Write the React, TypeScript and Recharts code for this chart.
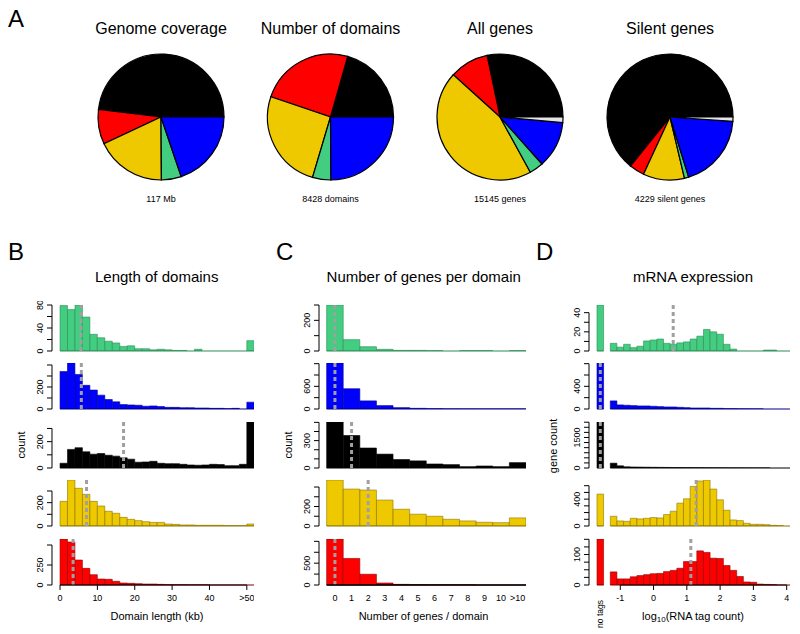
import React from "react";
import { PieChart, Pie, Cell, BarChart, Bar, XAxis, YAxis, ReferenceLine } from "recharts";

const FONT = "'Liberation Sans', Arial, Helvetica, sans-serif";

// ---------- A: pies (share of each chromatin type, percent) ----------
const sliceNames = ["black", "red", "yellow", "green", "blue", "none"];
const sliceColors = ["#000000", "#FF0000", "#EEC900", "#43CD80", "#0000FF", "#E5E5E5"];
const genomeCoverage = [48.1, 8.9, 18.1, 5.1, 19.8, 0];
const numberOfDomains = [20.6, 24.2, 25.6, 4.7, 24.9, 0];
const allGenes = [28.3, 10.0, 44.7, 3.6, 12.0, 1.4];
const silentGenes = [64.2, 3.9, 10.6, 1.1, 19.1, 1.1];
const pieTitles = ["Genome coverage", "Number of domains", "All genes", "Silent genes"];
const pieCaptions = ["117 Mb", "8428 domains", "15145 genes", "4229 silent genes"];

// ---------- B: length of domains (2 kb bins, last = >50) ----------
const lengthBins = [1, 3, 5, 7, 9, 11, 13, 15, 17, 19, 21, 23, 25, 27, 29, 31, 33, 35, 37, 39, 41, 43, 45, 47, 49, 51];
const lengthTicks = [0, 10, 20, 30, 40, 50];
const lengthTickLabels = ["0", "10", "20", "30", "40", ">50"];
const lengthGreen = [79, 72, 80, 59, 29, 23, 17, 14, 8, 9, 4, 4, 2, 3, 2, 1, 1, 0, 3, 0, 0, 0, 0, 0, 0, 18];
const lengthBlue = [341, 418, 314, 215, 172, 126, 86, 65, 40, 37, 34, 25, 28, 22, 15, 15, 12, 12, 9, 9, 6, 6, 3, 6, 0, 62];
const lengthBlack = [36, 141, 154, 123, 105, 110, 97, 90, 77, 67, 44, 46, 51, 36, 33, 33, 28, 23, 21, 23, 28, 26, 18, 18, 28, 349];
const lengthYellow = [211, 394, 323, 271, 211, 171, 126, 109, 74, 57, 46, 37, 31, 31, 17, 14, 9, 9, 6, 6, 6, 6, 3, 3, 3, 17];
const lengthRed = [575, 537, 312, 208, 129, 75, 71, 46, 25, 21, 17, 12, 12, 8, 4, 2, 2, 1, 1, 1, 0, 0, 0, 0, 0, 0];
const lengthMedians = [5.6, 5.7, 17, 7.1, 3.5];

// ---------- C: genes per domain (last = >10) ----------
const geneBins = [0, 1, 2, 3, 4, 5, 6, 7, 8, 9, 10, 11];
const geneTicks = [0, 1, 2, 3, 4, 5, 6, 7, 8, 9, 10, 11];
const geneTickLabels = ["0", "1", "2", "3", "4", "5", "6", "7", "8", "9", "10", ">10"];
const geneGreen = [300, 74, 28, 11, 4, 4, 2, 0, 2, 2, 0, 2];
const geneBlue = [1218, 537, 215, 90, 36, 18, 9, 3, 2, 1, 1, 1];
const geneBlack = [504, 356, 219, 152, 93, 78, 44, 37, 15, 22, 15, 59];
const geneYellow = [472, 379, 369, 266, 172, 121, 100, 69, 52, 38, 34, 83];
const geneRed = [1054, 608, 246, 46, 15, 8, 2, 1, 1, 0, 0, 0];
const geneMedians = [0, 0, 1, 2, 0];

// ---------- D: mRNA expression (first bin = no tags, then log10 bins of 0.2) ----------
const exprBins = [-1.6, -1.2, -1.0, -0.8, -0.6, -0.4, -0.2, 0, 0.2, 0.4, 0.6, 0.8, 1.0, 1.2, 1.4, 1.6, 1.8, 2.0, 2.2, 2.4, 2.6, 2.8, 3.0, 3.2, 3.4, 3.6, 3.8, 4.0];
const exprTicks = [-1.6, -1, 0, 1, 2, 3, 4];
const exprTickLabels = ["no tags", "-1", "0", "1", "2", "3", "4"];
const exprGreen = [48, 8, 4, 7, 3.5, 5, 10.5, 11.5, 12.5, 8, 7, 8.5, 9.5, 12.5, 15.5, 22.5, 20, 17.5, 7, 2, 0, 0, 0, 0, 1, 1, 0, 0];
const exprBlue = [812, 143, 72, 66, 60, 54, 54, 48, 42, 36, 36, 30, 24, 18, 18, 18, 12, 12, 6, 6, 3, 2, 1, 1, 0, 0, 0, 0];
const exprBlack = [2260, 237, 108, 60, 50, 45, 40, 36, 32, 28, 25, 22, 19, 16, 14, 12, 10, 8, 6, 5, 4, 3, 2, 1, 1, 0, 0, 0];
const exprYellow = [475, 145, 75, 70, 115, 105, 115, 125, 120, 170, 220, 340, 405, 590, 670, 685, 550, 390, 235, 90, 80, 40, 25, 25, 20, 10, 5, 0];
const exprRed = [151, 43, 20, 20, 27, 31, 34, 37, 38, 44, 48, 55, 77, 77, 112, 107, 88, 87, 64, 48, 28, 10, 9, 3, 2, 1, 0, 0];
const exprMedians = [0.59, -1.6, -1.6, 1.28, 1.12];

const rowColors = [
  { fill: "#43CD80", border: "#2E8B57" },
  { fill: "#0000FF", border: "#00008B" },
  { fill: "#000000", border: "#000000" },
  { fill: "#EEC900", border: "#8B7500" },
  { fill: "#FF0000", border: "#8B0000" },
];
const rowBaselines = [351, 409.3, 467.7, 526, 585];
const PLOT_H = 46;

interface Row {
  values: number[];
  median: number;
  yTicks: number[];
  yLabels: number[];
}
interface Panel {
  bins: number[];
  binWidth: number;
  axisX: number;
  plotWidth: number;
  domain: [number, number];
  span: [number, number][];
  rows: Row[];
  xTicks: number[];
  xLabels: string[];
  xLine: [number, number];
  xLineWidth: number;
  tickMarks: boolean;
}

const panelB: Panel = {
  bins: lengthBins,
  binWidth: 2,
  axisX: 51.7,
  plotWidth: 202.3,
  domain: [-2.15, 52],
  span: [[0, 52]],
  xTicks: lengthTicks,
  xLabels: lengthTickLabels,
  xLine: [0, 50],
  xLineWidth: 1,
  tickMarks: true,
  rows: [
    { values: lengthGreen, median: lengthMedians[0], yTicks: [0, 20, 40, 60, 80], yLabels: [0, 40, 80] },
    { values: lengthBlue, median: lengthMedians[1], yTicks: [0, 100, 200, 300, 400], yLabels: [0, 200] },
    { values: lengthBlack, median: lengthMedians[2], yTicks: [0, 100, 200, 300], yLabels: [0, 200] },
    { values: lengthYellow, median: lengthMedians[3], yTicks: [0, 100, 200, 300], yLabels: [0, 200] },
    { values: lengthRed, median: lengthMedians[4], yTicks: [0, 250, 500], yLabels: [0, 250] },
  ],
};

const panelC: Panel = {
  bins: geneBins,
  binWidth: 1,
  axisX: 319,
  plotWidth: 207,
  domain: [-0.96, 11.5],
  span: [[-0.5, 11.5]],
  xTicks: geneTicks,
  xLabels: geneTickLabels,
  xLine: [-0.5, 11.5],
  xLineWidth: 1.6,
  tickMarks: false,
  rows: [
    { values: geneGreen, median: geneMedians[0], yTicks: [0, 100, 200, 300], yLabels: [0, 200] },
    { values: geneBlue, median: geneMedians[1], yTicks: [0, 300, 600, 900, 1200], yLabels: [0, 600] },
    { values: geneBlack, median: geneMedians[2], yTicks: [0, 100, 200, 300, 400, 500], yLabels: [0, 300] },
    { values: geneYellow, median: geneMedians[3], yTicks: [0, 100, 200, 300, 400], yLabels: [0, 200] },
    { values: geneRed, median: geneMedians[4], yTicks: [0, 250, 500, 750, 1000], yLabels: [0, 500] },
  ],
};

const panelD: Panel = {
  bins: exprBins,
  binWidth: 0.2,
  axisX: 588.7,
  plotWidth: 201,
  domain: [-1.94, 4.1],
  span: [[-1.7, -1.5], [-1.3, 4.1]],
  xTicks: exprTicks,
  xLabels: exprTickLabels,
  xLine: [-1, 4],
  xLineWidth: 1,
  tickMarks: true,
  rows: [
    { values: exprGreen, median: exprMedians[0], yTicks: [0, 10, 20, 30, 40], yLabels: [0, 20, 40] },
    { values: exprBlue, median: exprMedians[1], yTicks: [0, 200, 400, 600, 800], yLabels: [0, 400] },
    { values: exprBlack, median: exprMedians[2], yTicks: [0, 250, 500, 750, 1000, 1250, 1500, 1750, 2000, 2250], yLabels: [0, 1500] },
    { values: exprYellow, median: exprMedians[3], yTicks: [0, 100, 200, 300, 400, 500, 600], yLabels: [0, 400] },
    { values: exprRed, median: exprMedians[4], yTicks: [0, 25, 50, 75, 100, 125, 150], yLabels: [0, 100] },
  ],
};

const YTick = (props: any) => {
  const { x, y, payload, labels } = props;
  if (!labels.includes(payload.value)) return <g />;
  return (
    <text x={x} y={y} transform={`rotate(-90 ${x} ${y})`} textAnchor="middle" fontSize={9} fontFamily={FONT} fill="#000">
      {payload.value}
    </text>
  );
};

const XTick = (props: any) => {
  const { x, y, payload, panel } = props;
  const i = panel.xTicks.indexOf(payload.value);
  const label = panel.xLabels[i];
  if (label === "no tags") {
    return (
      <text x={x + 3} y={y + 15} transform={`rotate(-90 ${x + 3} ${y + 15})`} textAnchor="end" fontSize={8.5} fontFamily={FONT} fill="#000">
        {label}
      </text>
    );
  }
  return (
    <g>
      {panel.tickMarks && <line x1={x} x2={x} y1={y} y2={y + 5} stroke="#000" />}
      <text x={x} y={y + 16} textAnchor="middle" fontSize={9} fontFamily={FONT} fill="#000">
        {label}
      </text>
    </g>
  );
};

const HistRow = ({ panel, idx }: { panel: Panel; idx: number }) => {
  const row = panel.rows[idx];
  const col = rowColors[idx];
  const last = idx === 4;
  const baseline = rowBaselines[idx];
  const pxPerUnit = panel.plotWidth / (panel.domain[1] - panel.domain[0]);
  const data = panel.bins.map((x, i) => ({ x, v: row.values[i] }));
  const yMax = Math.max(...row.values);
  const topTick = row.yTicks[row.yTicks.length - 1];
  const axisH = 48;
  return (
    <div style={{ position: "absolute", left: panel.axisX - 40, top: baseline - PLOT_H - 4 }}>
      <BarChart
        width={40 + panel.plotWidth}
        height={4 + PLOT_H + (last ? axisH : 4)}
        data={data}
        margin={{ top: 4, right: 0, bottom: last ? 0 : 4, left: 0 }}
        barCategoryGap={0}
        barGap={0}
      >
        <XAxis
          type="number"
          dataKey="x"
          domain={panel.domain}
          allowDataOverflow
          ticks={panel.xTicks}
          interval={0}
          hide={!last}
          height={axisH}
          axisLine={false}
          tickLine={false}
          tickSize={0}
          tickMargin={0}
          tick={(p: any) => <XTick {...p} panel={panel} />}
        />
        <YAxis
          type="number"
          domain={[0, yMax]}
          allowDataOverflow
          ticks={row.yTicks}
          interval={0}
          width={40}
          axisLine={false}
          stroke="#000"
          tickLine={{ stroke: "#000" }}
          tickSize={5}
          tickMargin={4}
          tick={(p: any) => <YTick {...p} labels={row.yLabels} />}
        />
        {panel.span.map((s, k) => (
          <ReferenceLine
            key={k}
            segment={[{ x: s[0], y: 0 }, { x: s[1], y: 0 }]}
            stroke={col.border}
            strokeWidth={1}
            ifOverflow="visible"
          />
        ))}
        <Bar
          dataKey="v"
          fill={col.fill}
          stroke={col.border}
          strokeWidth={0.6}
          barSize={panel.binWidth * pxPerUnit - 0.05}
          isAnimationActive={false}
        />
        <ReferenceLine x={row.median} stroke="#A0A0A0" strokeWidth={3} strokeDasharray="4 3" ifOverflow="visible" />
        <ReferenceLine
          segment={[{ x: panel.domain[0], y: 0 }, { x: panel.domain[0], y: topTick }]}
          stroke="#000"
          strokeWidth={1}
          ifOverflow="visible"
        />
        {last && (
          <ReferenceLine
            segment={[{ x: panel.xLine[0], y: 0 }, { x: panel.xLine[1], y: 0 }]}
            stroke="#000"
            strokeWidth={panel.xLineWidth}
            ifOverflow="visible"
          />
        )}
      </BarChart>
    </div>
  );
};

const Txt = ({ x, y, size, center = true, children }: any) => (
  <div
    style={{
      position: "absolute",
      left: x,
      top: y - size * 0.85,
      fontSize: size,
      lineHeight: 1,
      whiteSpace: "nowrap",
      transform: center ? "translateX(-50%)" : undefined,
    }}
  >
    {children}
  </div>
);

const VTxt = ({ x, y, size, children }: any) => (
  <div
    style={{
      position: "absolute",
      left: x,
      top: y,
      fontSize: size,
      lineHeight: 1,
      whiteSpace: "nowrap",
      transform: "translate(-50%, -50%) rotate(-90deg)",
    }}
  >
    {children}
  </div>
);

const pieSets = [genomeCoverage, numberOfDomains, allGenes, silentGenes];
const pieCx = [161, 330.5, 500, 670];

export default function App() {
  return (
    <div
      style={{
        position: "absolute",
        left: 0,
        top: 0,
        width: 800,
        height: 634,
        background: "#fff",
        fontFamily: FONT,
        color: "#000",
        overflow: "hidden",
      }}
    >
      <div style={{ position: "absolute", left: 0, top: 0 }}>
        <PieChart width={800} height={220} margin={{ top: 0, right: 0, bottom: 0, left: 0 }}>
          {pieSets.map((vals, p) => (
            <Pie
              key={p}
              data={sliceNames
                .map((name, i) => ({ name, value: vals[i], color: sliceColors[i] }))
                .filter((d) => d.value > 0)}
              dataKey="value"
              cx={pieCx[p]}
              cy={117}
              outerRadius={63}
              startAngle={0}
              endAngle={360}
              stroke="#000"
              strokeWidth={1.2}
              isAnimationActive={false}
            >
              {sliceNames
                .map((name, i) => ({ name, value: vals[i], color: sliceColors[i] }))
                .filter((d) => d.value > 0)
                .map((d) => (
                  <Cell key={d.name} fill={d.color} />
                ))}
            </Pie>
          ))}
        </PieChart>
      </div>

      {pieTitles.map((t, i) => (
        <Txt key={t} x={pieCx[i]} y={34.5} size={16}>
          {t}
        </Txt>
      ))}
      {pieCaptions.map((t, i) => (
        <Txt key={t} x={pieCx[i]} y={203} size={9}>
          {t}
        </Txt>
      ))}

      {[0, 1, 2, 3, 4].map((i) => (
        <HistRow key={"b" + i} panel={panelB} idx={i} />
      ))}
      {[0, 1, 2, 3, 4].map((i) => (
        <HistRow key={"c" + i} panel={panelC} idx={i} />
      ))}
      {[0, 1, 2, 3, 4].map((i) => (
        <HistRow key={"d" + i} panel={panelD} idx={i} />
      ))}

      <Txt x={8} y={27} size={24} center={false}>A</Txt>
      <Txt x={8} y={260} size={24} center={false}>B</Txt>
      <Txt x={276} y={260} size={24} center={false}>C</Txt>
      <Txt x={536} y={260} size={24} center={false}>D</Txt>

      <Txt x={156.7} y={282} size={15}>Length of domains</Txt>
      <Txt x={423.7} y={282} size={15}>Number of genes per domain</Txt>
      <Txt x={693} y={282} size={15}>mRNA expression</Txt>

      <Txt x={157} y={620} size={11}>Domain length (kb)</Txt>
      <Txt x={423.5} y={620} size={11}>Number of genes / domain</Txt>
      <Txt x={693} y={620} size={11}>
        log<sub style={{ fontSize: 8, verticalAlign: "-2px" }}>10</sub>(RNA tag count)
      </Txt>

      <VTxt x={21} y={445} size={11}>count</VTxt>
      <VTxt x={288} y={445} size={11}>count</VTxt>
      <VTxt x={552.5} y={445.5} size={11}>gene count</VTxt>
    </div>
  );
}
